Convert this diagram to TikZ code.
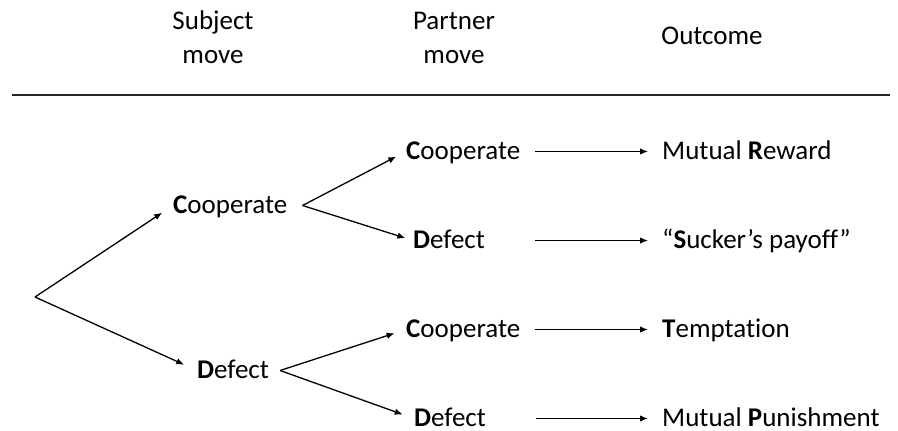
\documentclass[tikz,border=0pt]{standalone}
\usepackage{fontspec}
\setmainfont[Ligatures={NoCommon}]{Carlito}
\usetikzlibrary{arrows.meta}

\begin{document}
\begin{tikzpicture}[x=1pt,y=-1pt,
        every node/.style={font=\fontsize{27}{34}\selectfont, inner sep=0pt},
        head/.style={anchor=base, align=center},
        move/.style={anchor=west, align=left, text height=17pt, text depth=2pt},
        arr/.style={-{Latex[length=8pt,width=6.5pt]}, line width=1.3pt}]
        \useasboundingbox (0,0) rectangle (898,431);
        % column heads
        \node[head] (subj) at (213,63) {Subject\\move};
        \node[head] (part) at (454,63) {Partner\\move};
        \node[head] (outc) at (712,45) {Outcome};
        \coordinate (rl) at (12,95);
        \coordinate (rr) at (890,95);
        \draw[line width=1.5pt, black!85] (rl) -- (rr);
        % moves
        \coordinate (root) at (35,297);
        \node[move] (sc) at (173,205.5) {\textbf{C}ooperate};
        \node[move] (sd) at (197,370.5) {\textbf{D}efect};
        \node[move, text width=123pt] (p1) at (406,151.5) {\textbf{C}ooperate};
        \node[move, text width=116pt] (p2) at (413,240.5) {\textbf{D}efect};
        \node[move, text width=123pt] (p3) at (406,329.5) {\textbf{C}ooperate};
        \node[move, text width=116pt] (p4) at (414,418.5) {\textbf{D}efect};
        % outcomes
        \node[move] (o1) at (662,151.5) {Mutual \textbf{R}eward};
        \node[move] (o2) at (662,240.5) {“\textbf{S}ucker’s payoff”};
        \node[move] (o3) at (662,329.5) {\textbf{T}emptation};
        \node[move] (o4) at (662,418.5) {Mutual \textbf{P}unishment};
        \coordinate (scfork) at ([xshift=15pt]sc.east);
        \coordinate (sdfork) at ([xshift=11pt]sd.east);
        \draw[arr, shorten >=13pt] (root) -- (sc.west);
        \draw[arr, shorten >=14pt] (root) -- (sd.west);
        \draw[arr, shorten >=11pt] (scfork) -- (p1.west);
        \draw[arr, shorten >=8pt] (scfork) -- (p2.west);
        \draw[arr, shorten >=12pt] (sdfork) -- (p3.west);
        \draw[arr, shorten >=12pt] (sdfork) -- (p4.west);
        \foreach \i in {1,...,4}{%
                \draw[arr, shorten <=6pt, shorten >=14pt] (p\i.east) -- (o\i.west);
            }
    \end{tikzpicture}
\end{document}
